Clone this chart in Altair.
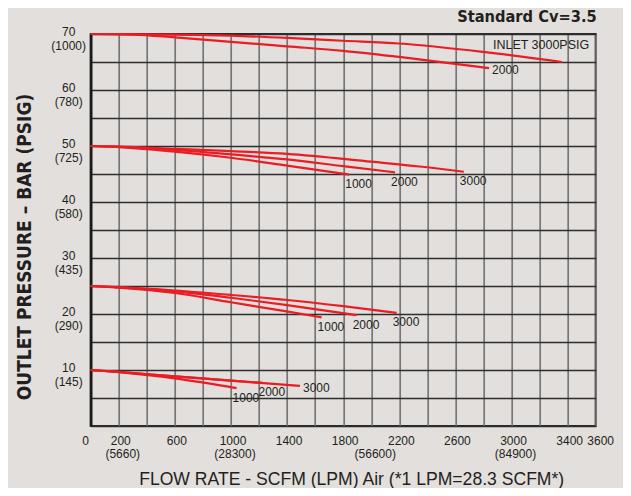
import altair as alt
import pandas as pd

RED = "#ec1c24"
INK = "#231f20"
BG = "#e2dfdc"

# ---- curve data (flow SCFM, outlet pressure BAR) ----
curve_ids = ["70-2000", "70-3000", "50-1000", "50-2000", "50-3000",
             "25-1000", "25-2000", "25-3000", "10-1000", "10-2000", "10-3000"]
curve_labels = ["2000", "", "1000", "2000", "3000",
                "1000", "2000", "3000", "1000", "2000", "3000"]
curve_flows = [
    [0, 300, 600, 1000, 1400, 1800, 2200, 2840],
    [0, 600, 1000, 1400, 1800, 2200, 2800, 3360],
    [0, 200, 600, 1000, 1400, 1843],
    [0, 200, 600, 1000, 1400, 1800, 2170],
    [0, 200, 600, 1000, 1400, 2000, 2400, 2660],
    [0, 200, 600, 1000, 1386, 1646],
    [0, 200, 600, 1000, 1400, 1896],
    [0, 200, 600, 1000, 1400, 1800, 2181],
    [0, 200, 600, 1040],
    [0, 200, 600, 1000, 1225],
    [0, 200, 600, 1000, 1492],
]
curve_pressures = [
    [70, 69.9, 69.4, 68.6, 67.8, 67.0, 65.9, 63.9],
    [70, 69.9, 69.7, 69.3, 68.8, 68.3, 66.8, 65.0],
    [50, 49.8, 49.0, 47.9, 46.5, 44.9],
    [50, 49.85, 49.3, 48.5, 47.6, 46.4, 45.3],
    [50, 49.9, 49.5, 49.1, 48.6, 47.2, 46.2, 45.4],
    [25, 24.7, 23.75, 22.1, 20.5, 19.4],
    [25, 24.75, 24.05, 22.9, 21.6, 19.8],
    [25, 24.8, 24.2, 23.4, 22.5, 21.4, 20.2],
    [10, 9.6, 8.5, 6.75],
    [10, 9.65, 8.85, 8.1, 7.7],
    [10, 9.65, 8.85, 8.1, 7.15],
]
labels_right = ["70-2000", "10-3000"]

# ---- axis tick labels ----
x_grid = list(range(0, 3601, 200))
y_grid = list(range(0, 71, 5))
x_tick_vals = [0, 200, 600, 1000, 1400, 1800, 2200, 2600, 3000, 3400, 3600]
x_sub_vals = [200, 1000, 2000, 3000]
x_sub_text = ["(5660)", "(28300)", "(56600)", "(84900)"]
y_tick_vals = [10, 20, 30, 40, 50, 60, 70]
y_tick_psig = ["(145)", "(290)", "(435)", "(580)", "(725)", "(780)", "(1000)"]

title_text = "Standard Cv=3.5"
inlet_text = "INLET 3000PSIG"
x_title = "FLOW RATE - SCFM (LPM) Air (*1 LPM=28.3 SCFM*)"
y_title = "OUTLET PRESSURE \u2013 BAR (PSIG)"

# ---- build tables ----
rows = []
for cid, fl, pr in zip(curve_ids, curve_flows, curve_pressures):
    for f, p in zip(fl, pr):
        rows.append({"curve": cid, "flow": f, "pressure": p})
curves = pd.DataFrame(rows)

ends = pd.DataFrame([
    {"curve": cid, "label": lab, "flow": fl[-1], "pressure": pr[-1]}
    for cid, lab, fl, pr in zip(curve_ids, curve_labels, curve_flows, curve_pressures)
    if lab
])
ends_below = ends[~ends["curve"].isin(labels_right)]
ends_right = ends[ends["curve"].isin(labels_right)]

xt = pd.DataFrame({"flow": x_tick_vals, "t": [str(v) for v in x_tick_vals]})
xt_first = xt[xt["flow"] == x_tick_vals[0]]
xt_last = xt[xt["flow"] == x_tick_vals[-1]]
xt_mid = xt[(xt["flow"] != x_tick_vals[0]) & (xt["flow"] != x_tick_vals[-1])]
xs = pd.DataFrame({"flow": x_sub_vals, "t": x_sub_text})
yt = pd.DataFrame({"pressure": y_tick_vals, "t": [str(v) for v in y_tick_vals],
                   "p": y_tick_psig})
one = pd.DataFrame({"a": [0]})

W, H = 505, 392

x_enc = alt.X("flow:Q", scale=alt.Scale(domain=[0, 3600], nice=False, zero=False),
              axis=alt.Axis(values=x_grid, labels=False, ticks=False, domain=False,
                            grid=True, gridColor="#777777", gridWidth=1.7, title=None))
y_enc = alt.Y("pressure:Q", scale=alt.Scale(domain=[0, 70], nice=False, zero=False),
              axis=alt.Axis(values=y_grid, labels=False, ticks=False, domain=True,
                            domainColor="#1a1a1a", domainWidth=2.6,
                            grid=True, gridColor="#2e2e2e", gridWidth=1.4, title=None))

lines = alt.Chart(curves).mark_line(color=RED, strokeWidth=2.2, interpolate="monotone").encode(
    x=x_enc, y=y_enc, detail="curve:N")

tkw = dict(font="Liberation Sans", fontSize=12, color=INK)

lab_below = alt.Chart(ends_below).mark_text(align="left", baseline="middle", dx=-4, dy=9.5, **tkw).encode(
    x=x_enc, y=y_enc, text="label:N")
lab_right = alt.Chart(ends_right).mark_text(align="left", baseline="middle", dx=3, dy=2, **tkw).encode(
    x=x_enc, y=y_enc, text="label:N")

x_lab_mid = alt.Chart(xt_mid).mark_text(align="center", baseline="middle", dx=2, **tkw).encode(
    x=x_enc, y=alt.value(H + 15), text="t:N")
x_lab_first = alt.Chart(xt_first).mark_text(align="center", baseline="middle", dx=-5, **tkw).encode(
    x=x_enc, y=alt.value(H + 15), text="t:N")
x_lab_last = alt.Chart(xt_last).mark_text(align="center", baseline="middle", dx=5, **tkw).encode(
    x=x_enc, y=alt.value(H + 15), text="t:N")
x_lab2 = alt.Chart(xs).mark_text(align="center", baseline="middle", dx=4, **tkw).encode(
    x=x_enc, y=alt.value(H + 28), text="t:N")
y_lab1 = alt.Chart(yt).mark_text(align="center", baseline="middle", dy=-2, **tkw).encode(
    x=alt.value(-22), y=y_enc, text="t:N")
y_lab2 = alt.Chart(yt).mark_text(align="center", baseline="middle", dy=12, **tkw).encode(
    x=alt.value(-22), y=y_enc, text="p:N")

inlet = alt.Chart(one).mark_text(align="right", baseline="middle", font="Liberation Sans",
                                 fontSize=12.5, color=INK, text=inlet_text).encode(
    x=alt.value(W - 6.5), y=alt.value(11))

cond = "'DejaVu Sans Condensed', 'Liberation Sans Narrow', 'Roboto', sans-serif"
title = alt.Chart(one).mark_text(align="right", baseline="alphabetic", font=cond, fontWeight="bold",
                                 fontSize=16.3, color=INK, text=title_text).encode(
    x=alt.value(W + 1), y=alt.value(-12.3))
xtitle = alt.Chart(one).mark_text(align="center", baseline="alphabetic", font="Liberation Sans",
                                  fontSize=17.6, color=INK, text=x_title).encode(
    x=alt.value(261), y=alt.value(451))
ytitle = alt.Chart(one).mark_text(align="center", baseline="middle", font=cond, fontWeight="bold",
                                  fontSize=19, color=INK, angle=270, text=y_title).encode(
    x=alt.value(-66), y=alt.value(213))

chart = alt.layer(lines, lab_below, lab_right, x_lab_mid, x_lab_first, x_lab_last, x_lab2,
                  y_lab1, y_lab2, inlet, title, xtitle, ytitle).properties(
    width=W, height=H,
    autosize=alt.AutoSizeParams(type="none"),
    padding={"left": 82.7, "top": 26, "right": 27, "bottom": 62},
).configure(background=BG).configure_view(stroke="#2a2a2a", strokeWidth=2)

chart.save("out.html", embed_options={"renderer": "svg", "actions": False})
